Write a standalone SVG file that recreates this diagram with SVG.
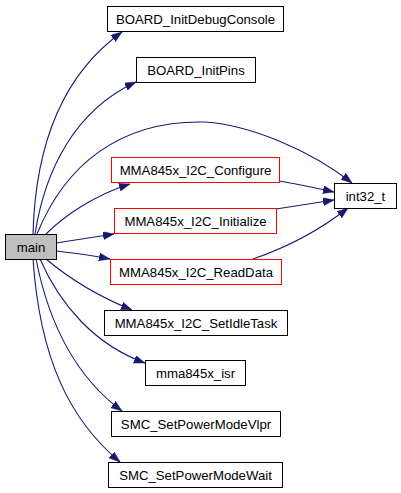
<svg xmlns="http://www.w3.org/2000/svg" width="401" height="493" viewBox="0 0 401 493">
<defs>
<marker id="arr" markerUnits="userSpaceOnUse" markerWidth="12" markerHeight="9" refX="11" refY="4" orient="auto">
<path d="M0,0 L11,4 L0,8 Z" fill="#191970" stroke="#191970" stroke-width="0.5"/>
</marker>
<style>
.node rect{fill:#ffffff;stroke:#000000;stroke-width:1}
.node.red rect{stroke:#ff0000}
.node.root rect{fill:#bfbfbf}
.node text{font-family:"Liberation Sans",Arial,sans-serif;font-size:13.2px;fill:#000000;text-anchor:middle}
.edges path{fill:none;stroke:#191970;stroke-width:1.1;marker-end:url(#arr)}
</style>
</defs>
<rect width="401" height="493" fill="#ffffff"/>
<g id="edges" class="edges">
<path d="M33,234 C35,160 55,80 122,32"/>
<path d="M35,234 C45,170 75,110 136,82"/>
<path d="M37,234 C65,165 120,120 205,122 C250,125 310,150 352,183"/>
<path d="M46,234 C65,215 95,195 130,184"/>
<path d="M56,243 C75,240 95,237 114,234"/>
<path d="M56,251 C75,253 95,256 110,259"/>
<path d="M279,181 C297,184 316,188 334,192"/>
<path d="M276,209 C295,206 315,203 334,200"/>
<path d="M253,259 C285,248 320,230 348,208"/>
<path d="M46,259 C65,275 95,295 132,310"/>
<path d="M40,259 C60,305 95,345 145,363"/>
<path d="M36,259 C50,330 80,380 122,411"/>
<path d="M33,259 C40,360 70,420 120,462"/>
</g>
<g id="node-main" class="node root"><rect x="5.5" y="234.5" width="51" height="25"/><text x="31" y="252">main</text></g>
<g id="node-BOARD_InitDebugConsole" class="node"><rect x="107.5" y="6.5" width="176" height="25"/><text x="195.5" y="24">BOARD_InitDebugConsole</text></g>
<g id="node-BOARD_InitPins" class="node"><rect x="136.5" y="57.5" width="119" height="25"/><text x="196" y="75">BOARD_InitPins</text></g>
<g id="node-MMA845x_I2C_Configure" class="node red"><rect x="111.5" y="157.5" width="168" height="25"/><text x="195.5" y="175">MMA845x_I2C_Configure</text></g>
<g id="node-MMA845x_I2C_Initialize" class="node red"><rect x="114.5" y="208.5" width="162" height="25"/><text x="195.5" y="226">MMA845x_I2C_Initialize</text></g>
<g id="node-int32_t" class="node"><rect x="334.5" y="183.5" width="62" height="25"/><text x="365.5" y="201">int32_t</text></g>
<g id="node-MMA845x_I2C_ReadData" class="node red"><rect x="110.5" y="259.5" width="171" height="25"/><text x="196" y="277">MMA845x_I2C_ReadData</text></g>
<g id="node-MMA845x_I2C_SetIdleTask" class="node"><rect x="104.5" y="310.5" width="183" height="25"/><text x="196" y="328">MMA845x_I2C_SetIdleTask</text></g>
<g id="node-mma845x_isr" class="node"><rect x="145.5" y="360.5" width="100" height="25"/><text x="195.5" y="378">mma845x_isr</text></g>
<g id="node-SMC_SetPowerModeVlpr" class="node"><rect x="111.5" y="411.5" width="169" height="25"/><text x="196" y="429">SMC_SetPowerModeVlpr</text></g>
<g id="node-SMC_SetPowerModeWait" class="node"><rect x="108.5" y="462.5" width="174" height="25"/><text x="195.5" y="480">SMC_SetPowerModeWait</text></g>
</svg>
